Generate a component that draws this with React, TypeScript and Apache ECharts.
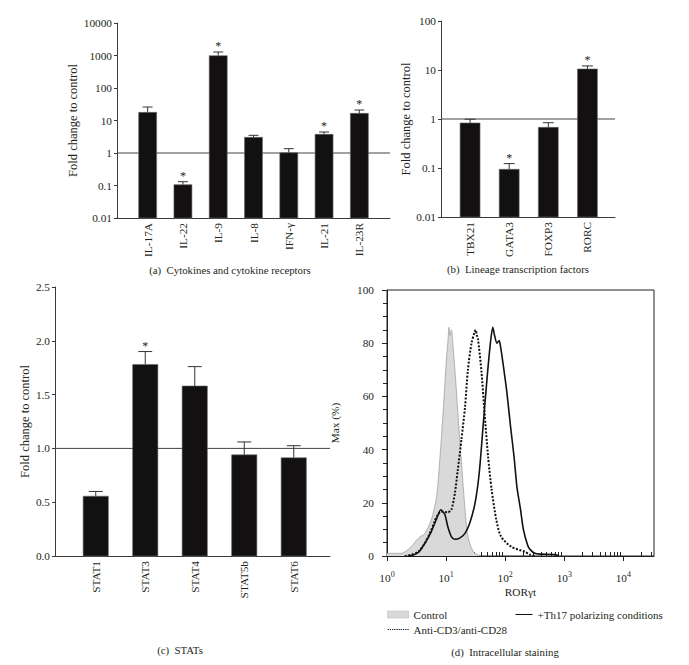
import React, { useEffect, useRef } from 'react';
import * as echarts from 'echarts';

// ---- Panel (a): cytokines and cytokine receptors ----
const CYTO_CATS = ['IL-17A', 'IL-22', 'IL-9', 'IL-8', 'IFN-γ', 'IL-21', 'IL-23R'];
const CYTO_VALUES = [17.8, 0.106, 990, 3.03, 1.02, 3.75, 16.6];
const CYTO_ERR_TOP = [26, 0.131, 1282, 3.5, 1.36, 4.43, 21];
const CYTO_SIG = [0, 1, 1, 0, 0, 1, 1];
const CYTO_TICKS = [0.01, 0.1, 1, 10, 100, 1000, 10000];

// ---- Panel (b): lineage transcription factors ----
const LIN_CATS = ['TBX21', 'GATA3', 'FOXP3', 'RORC'];
const LIN_VALUES = [0.83, 0.094, 0.676, 10.5];
const LIN_ERR_TOP = [0.99, 0.123, 0.84, 12.1];
const LIN_SIG = [0, 1, 0, 1];
const LIN_TICKS = [0.01, 0.1, 1, 10, 100];

// ---- Panel (c): STATs ----
const STAT_CATS = ['STAT1', 'STAT3', 'STAT4', 'STAT5b', 'STAT6'];
const STAT_VALUES = [0.556, 1.78, 1.58, 0.94, 0.913];
const STAT_ERR_TOP = [0.6, 1.9, 1.76, 1.06, 1.025];
const STAT_SIG = [0, 1, 0, 0, 0];

const REF_LEVEL = 1;

// ---- Panel (d): intracellular staining histograms [RORγt, Max %] ----
const CONTROL = [
  [1, 1], [1.74, 1], [2.57, 3.5], [3.39, 6.7], [4.37, 8.5], [5.62, 13.6], [6.92, 22.4],
  [7.76, 35], [8.91, 54], [10.2, 75], [10.7, 80], [11.2, 86], [11.7, 83], [12.3, 85],
  [13.2, 78], [14.1, 70], [15.8, 54], [18.2, 35], [20.9, 17.4], [23.4, 7.3], [28.8, 1.6], [37.2, 0],
];
const ANTI_CD3 = [
  [2.0, 0], [2.6, 0.5], [3.39, 1.6], [4.37, 4.8], [5.62, 9.8], [6.92, 14.8], [8.32, 16.7],
  [10.7, 16.4], [12.3, 17.4], [14.1, 23.7], [15.8, 32.5], [18.2, 43.8], [20.9, 56], [23.4, 70],
  [26.9, 80], [30.2, 84], [31.6, 85], [33.1, 83], [34.7, 81.5], [39.8, 69], [44.7, 54],
  [51.3, 37.5], [58.9, 25], [70.8, 13.6], [85.1, 7.3], [126, 3.5], [214, 1.6], [263, 0.5], [320, 0],
];
const TH17 = [
  [2.24, 0], [2.8, 0.4], [3.39, 1.3], [4.37, 4.8], [5.62, 9.2], [6.92, 14], [8.13, 17.4],
  [9.55, 15.5], [10.7, 11], [12.3, 7.3], [14.1, 6.3], [17.0, 6.7], [20.9, 8.5], [25.1, 12.3],
  [30.9, 19.9], [36.3, 31], [42.7, 50], [49.0, 66], [56.2, 80], [61.7, 86], [66, 83], [72.4, 80],
  [79, 81], [83.2, 79], [93.3, 71.4], [107, 61.4], [123, 48.8], [141, 37.5], [158, 26], [182, 17.4],
  [204, 9.8], [240, 4], [263, 2.5], [316, 1], [400, 0.7], [708, 0.5], [800, 0],
];
const HIST_MAJOR = [1, 10, 100, 1000, 10000];
const HIST_MINOR = [
  2, 3, 4, 5, 6, 7, 8, 9, 20, 30, 40, 50, 60, 70, 80, 90, 200, 300, 400, 500, 600, 700, 800, 900,
  2000, 3000, 4000, 5000, 6000, 7000, 8000, 9000, 20000, 30000,
];

const FONT = 'Liberation Serif';
const INK = '#231f20';
const AXIS = '#3a3a3a';

const tickText = { fontFamily: FONT, fontSize: 11.3, color: INK };
const titleText = { fontFamily: FONT, fontSize: 12.5, color: INK };
const capFont = `10.8px "${FONT}"`;

function barRenderer(yMin: number, n: number) {
  return (params: any, api: any) => {
    const i = api.value(0);
    const v = api.value(1);
    const e = api.value(2);
    const s = api.value(3);
    const bw = (params.coordSys.width / n) * 0.51;
    const base = api.coord([i, yMin]);
    const top = api.coord([i, v]);
    const et = api.coord([i, e]);
    const cap = bw * 0.55;
    const children: any[] = [
      { type: 'line', shape: { x1: top[0], y1: top[1], x2: top[0], y2: et[1] }, style: { stroke: '#333', lineWidth: 1 } },
      { type: 'line', shape: { x1: top[0] - cap / 2, y1: et[1], x2: top[0] + cap / 2, y2: et[1] }, style: { stroke: '#333', lineWidth: 1 } },
      {
        type: 'rect',
        shape: { x: top[0] - bw / 2, y: top[1], width: bw, height: base[1] - top[1] },
        style: { fill: '#121011', stroke: '#6a6a6a', lineWidth: 0.6 },
      },
    ];
    if (s) {
      children.push({
        type: 'text',
        x: top[0],
        y: et[1] - 6,
        style: { text: '*', align: 'center', verticalAlign: 'middle', textAlign: 'center', textVerticalAlign: 'middle', font: `12px "${FONT}"`, fill: INK },
      });
    }
    return { type: 'group', children };
  };
}

function logFmt(v: number) {
  const n = Math.round(Math.log10(v));
  return n < 0 ? Math.pow(10, n).toFixed(-n) : String(Math.pow(10, n));
}

export default function App() {
  const ref = useRef<HTMLDivElement>(null);
  useEffect(() => {
    if (!ref.current) return;
    const chart = echarts.init(ref.current, undefined, { renderer: 'svg' });

    const frameX = (gi: number) => ({
      gridIndex: gi,
      type: 'value',
      min: 0,
      max: 1,
      axisLine: { show: true, onZero: false, lineStyle: { color: AXIS, width: 1 } },
      axisTick: { show: false },
      axisLabel: { show: false },
      splitLine: { show: false },
    });
    const catX = (gi: number, cats: string[]) => ({
      gridIndex: gi,
      type: 'category',
      data: cats,
      axisLine: { show: false },
      axisTick: { show: false },
      axisLabel: { ...tickText, rotate: 90, margin: 5, interval: 0 },
      splitLine: { show: false },
    });
    const logY = (gi: number, min: number, max: number, ticks: number[], nameGap: number) => ({
      gridIndex: gi,
      type: 'log',
      min,
      max,
      axisLine: { show: true, lineStyle: { color: AXIS, width: 1 } },
      axisTick: { show: true, length: 3, customValues: ticks, lineStyle: { color: AXIS } },
      axisLabel: { ...tickText, margin: 5, customValues: ticks, formatter: logFmt },
      splitLine: { show: false },
      name: 'Fold change to control',
      nameLocation: 'middle',
      nameGap,
      nameTextStyle: { ...titleText },
    });
    const hiddenY = (gi: number, type: string, min: number, max: number) => ({
      gridIndex: gi, type, min, max, show: false,
    });

    const refLine = (xi: number, yi: number) => ({
      type: 'line',
      xAxisIndex: xi,
      yAxisIndex: yi,
      data: [[0, REF_LEVEL], [1, REF_LEVEL]],
      symbol: 'none',
      silent: true,
      z: 1,
      lineStyle: { color: '#444', width: 1 },
    });
    const bars = (xi: number, yi: number, vals: number[], errs: number[], sig: number[], yMin: number) => ({
      type: 'custom',
      xAxisIndex: xi,
      yAxisIndex: yi,
      z: 3,
      silent: true,
      renderItem: barRenderer(yMin, vals.length),
      data: vals.map((v, i) => [i, v, errs[i], sig[i]]),
    });

    const caption = (x: number, y: number, text: string) => ({
      type: 'text', x, y,
      style: { text, font: capFont, fill: INK, align: 'center', verticalAlign: 'middle', textAlign: 'center', textVerticalAlign: 'middle' },
    });

    const option: any = {
      animation: false,
      backgroundColor: '#fff',
      textStyle: { fontFamily: FONT },
      grid: [
        { left: 117, top: 23, width: 273, height: 195 },
        { left: 130, top: 23, width: 247, height: 195 },
        { left: 441, top: 21, width: 174, height: 196 },
        { left: 450.5, top: 21, width: 156.5, height: 196 },
        { left: 55, top: 287, width: 275, height: 269 },
        { left: 71, top: 287, width: 247.5, height: 269 },
        { left: 387, top: 290, width: 267, height: 266, show: true, borderColor: '#222', borderWidth: 1, backgroundColor: 'transparent' },
      ],
      xAxis: [
        frameX(0),
        catX(1, CYTO_CATS),
        frameX(2),
        catX(3, LIN_CATS),
        frameX(4),
        catX(5, STAT_CATS),
        {
          gridIndex: 6,
          type: 'log',
          position: 'bottom',
          min: 1,
          max: 33000,
          axisLine: { show: true, lineStyle: { color: '#222', width: 1 } },
          axisTick: { show: true, length: 5, customValues: HIST_MAJOR, lineStyle: { color: '#222' } },
          axisLabel: {
            customValues: HIST_MAJOR,
            margin: 14,
            formatter: (v: number) => `{b|10}{s|${Math.round(Math.log10(v))}}`,
            rich: {
              b: { fontFamily: FONT, fontSize: 11.3, color: INK, lineHeight: 13, padding: [3, 0, 0, 0] },
              s: { fontFamily: FONT, fontSize: 8, color: INK, lineHeight: 8, verticalAlign: 'top' },
            },
          },
          splitLine: { show: false },
          name: 'RORγt',
          nameLocation: 'middle',
          nameGap: 30,
          nameTextStyle: { ...tickText },
        },
        {
          gridIndex: 6,
          type: 'log',
          position: 'bottom',
          min: 1,
          max: 33000,
          axisLine: { show: false },
          axisTick: { show: true, inside: true, length: 4, customValues: HIST_MINOR, lineStyle: { color: '#222' } },
          axisLabel: { show: false },
          splitLine: { show: false },
        },
      ],
      yAxis: [
        logY(0, 0.01, 10000, CYTO_TICKS, 31),
        hiddenY(1, 'log', 0.01, 10000),
        logY(2, 0.01, 100, LIN_TICKS, 21),
        hiddenY(3, 'log', 0.01, 100),
        {
          gridIndex: 4,
          type: 'value',
          min: 0,
          max: 2.5,
          interval: 0.5,
          axisLine: { show: true, lineStyle: { color: AXIS, width: 1 } },
          axisTick: { show: true, length: 3, lineStyle: { color: AXIS } },
          axisLabel: { ...tickText, margin: 5, formatter: (v: number) => v.toFixed(1) },
          splitLine: { show: false },
          name: 'Fold change to control',
          nameLocation: 'middle',
          nameGap: 19,
          nameTextStyle: { ...titleText },
        },
        hiddenY(5, 'value', 0, 2.5),
        {
          gridIndex: 6,
          type: 'value',
          min: 0,
          max: 100,
          interval: 20,
          axisLine: { show: true, lineStyle: { color: '#222', width: 1 } },
          axisTick: { show: true, length: 5, lineStyle: { color: '#222' } },
          minorTick: { show: true, splitNumber: 4, length: 4, lineStyle: { color: '#222' } },
          axisLabel: { ...tickText, margin: 13 },
          splitLine: { show: false },
          name: 'Max (%)',
          nameLocation: 'middle',
          nameGap: 47,
          nameTextStyle: { ...tickText },
        },
      ],
      legend: [
        {
          left: 387,
          top: 609,
          padding: 0,
          orient: 'vertical',
          itemGap: 4,
          itemWidth: 21,
          itemHeight: 7,
          selectedMode: false,
          textStyle: { ...tickText, fontSize: 11 },
          data: [
            { name: 'Control', icon: 'rect', itemStyle: { color: '#d9d9d9', borderColor: '#b5b5b5', borderWidth: 0.5 } },
            { name: 'Anti-CD3/anti-CD28', itemStyle: { opacity: 0 }, lineStyle: { width: 1.2, type: [1.2, 1] } },
          ],
        },
        {
          left: 515,
          top: 609,
          padding: 0,
          itemWidth: 17,
          itemHeight: 7,
          selectedMode: false,
          textStyle: { ...tickText, fontSize: 11 },
          data: [{ name: '+Th17 polarizing conditions', itemStyle: { opacity: 0 }, lineStyle: { width: 1 } }],
        },
      ],
      series: [
        refLine(0, 0),
        bars(1, 1, CYTO_VALUES, CYTO_ERR_TOP, CYTO_SIG, 0.01),
        refLine(2, 2),
        bars(3, 3, LIN_VALUES, LIN_ERR_TOP, LIN_SIG, 0.01),
        refLine(4, 4),
        bars(5, 5, STAT_VALUES, STAT_ERR_TOP, STAT_SIG, 0),
        {
          name: 'Control',
          type: 'line',
          xAxisIndex: 6,
          yAxisIndex: 6,
          data: CONTROL,
          symbol: 'none',
          smooth: 0.25,
          z: 2,
          lineStyle: { color: '#a0a0a0', width: 0.8 },
          areaStyle: { color: '#d9d9d9', opacity: 1, origin: 'start' },
        },
        {
          name: 'Anti-CD3/anti-CD28',
          type: 'line',
          xAxisIndex: 6,
          yAxisIndex: 6,
          data: ANTI_CD3,
          symbol: 'none',
          smooth: 0.25,
          z: 3,
          itemStyle: { color: '#111' },
          lineStyle: { color: '#111', width: 2, type: [2, 1.6] },
        },
        {
          name: '+Th17 polarizing conditions',
          type: 'line',
          xAxisIndex: 6,
          yAxisIndex: 6,
          data: TH17,
          symbol: 'none',
          smooth: 0.25,
          z: 4,
          itemStyle: { color: '#111' },
          lineStyle: { color: '#111', width: 1.6 },
        },
      ],
      graphic: [
        caption(230, 270, '(a)  Cytokines and cytokine receptors'),
        caption(518, 269, '(b)  Lineage transcription factors'),
        caption(180, 650, '(c)  STATs'),
        caption(505, 652, '(d)  Intracellular staining'),
      ],
    };
    chart.setOption(option);
    return () => chart.dispose();
  }, []);
  return (
    <div
      ref={ref}
      style={{ position: 'absolute', left: 0, top: 0, width: 689, height: 665, background: '#fff' }}
    />
  );
}
